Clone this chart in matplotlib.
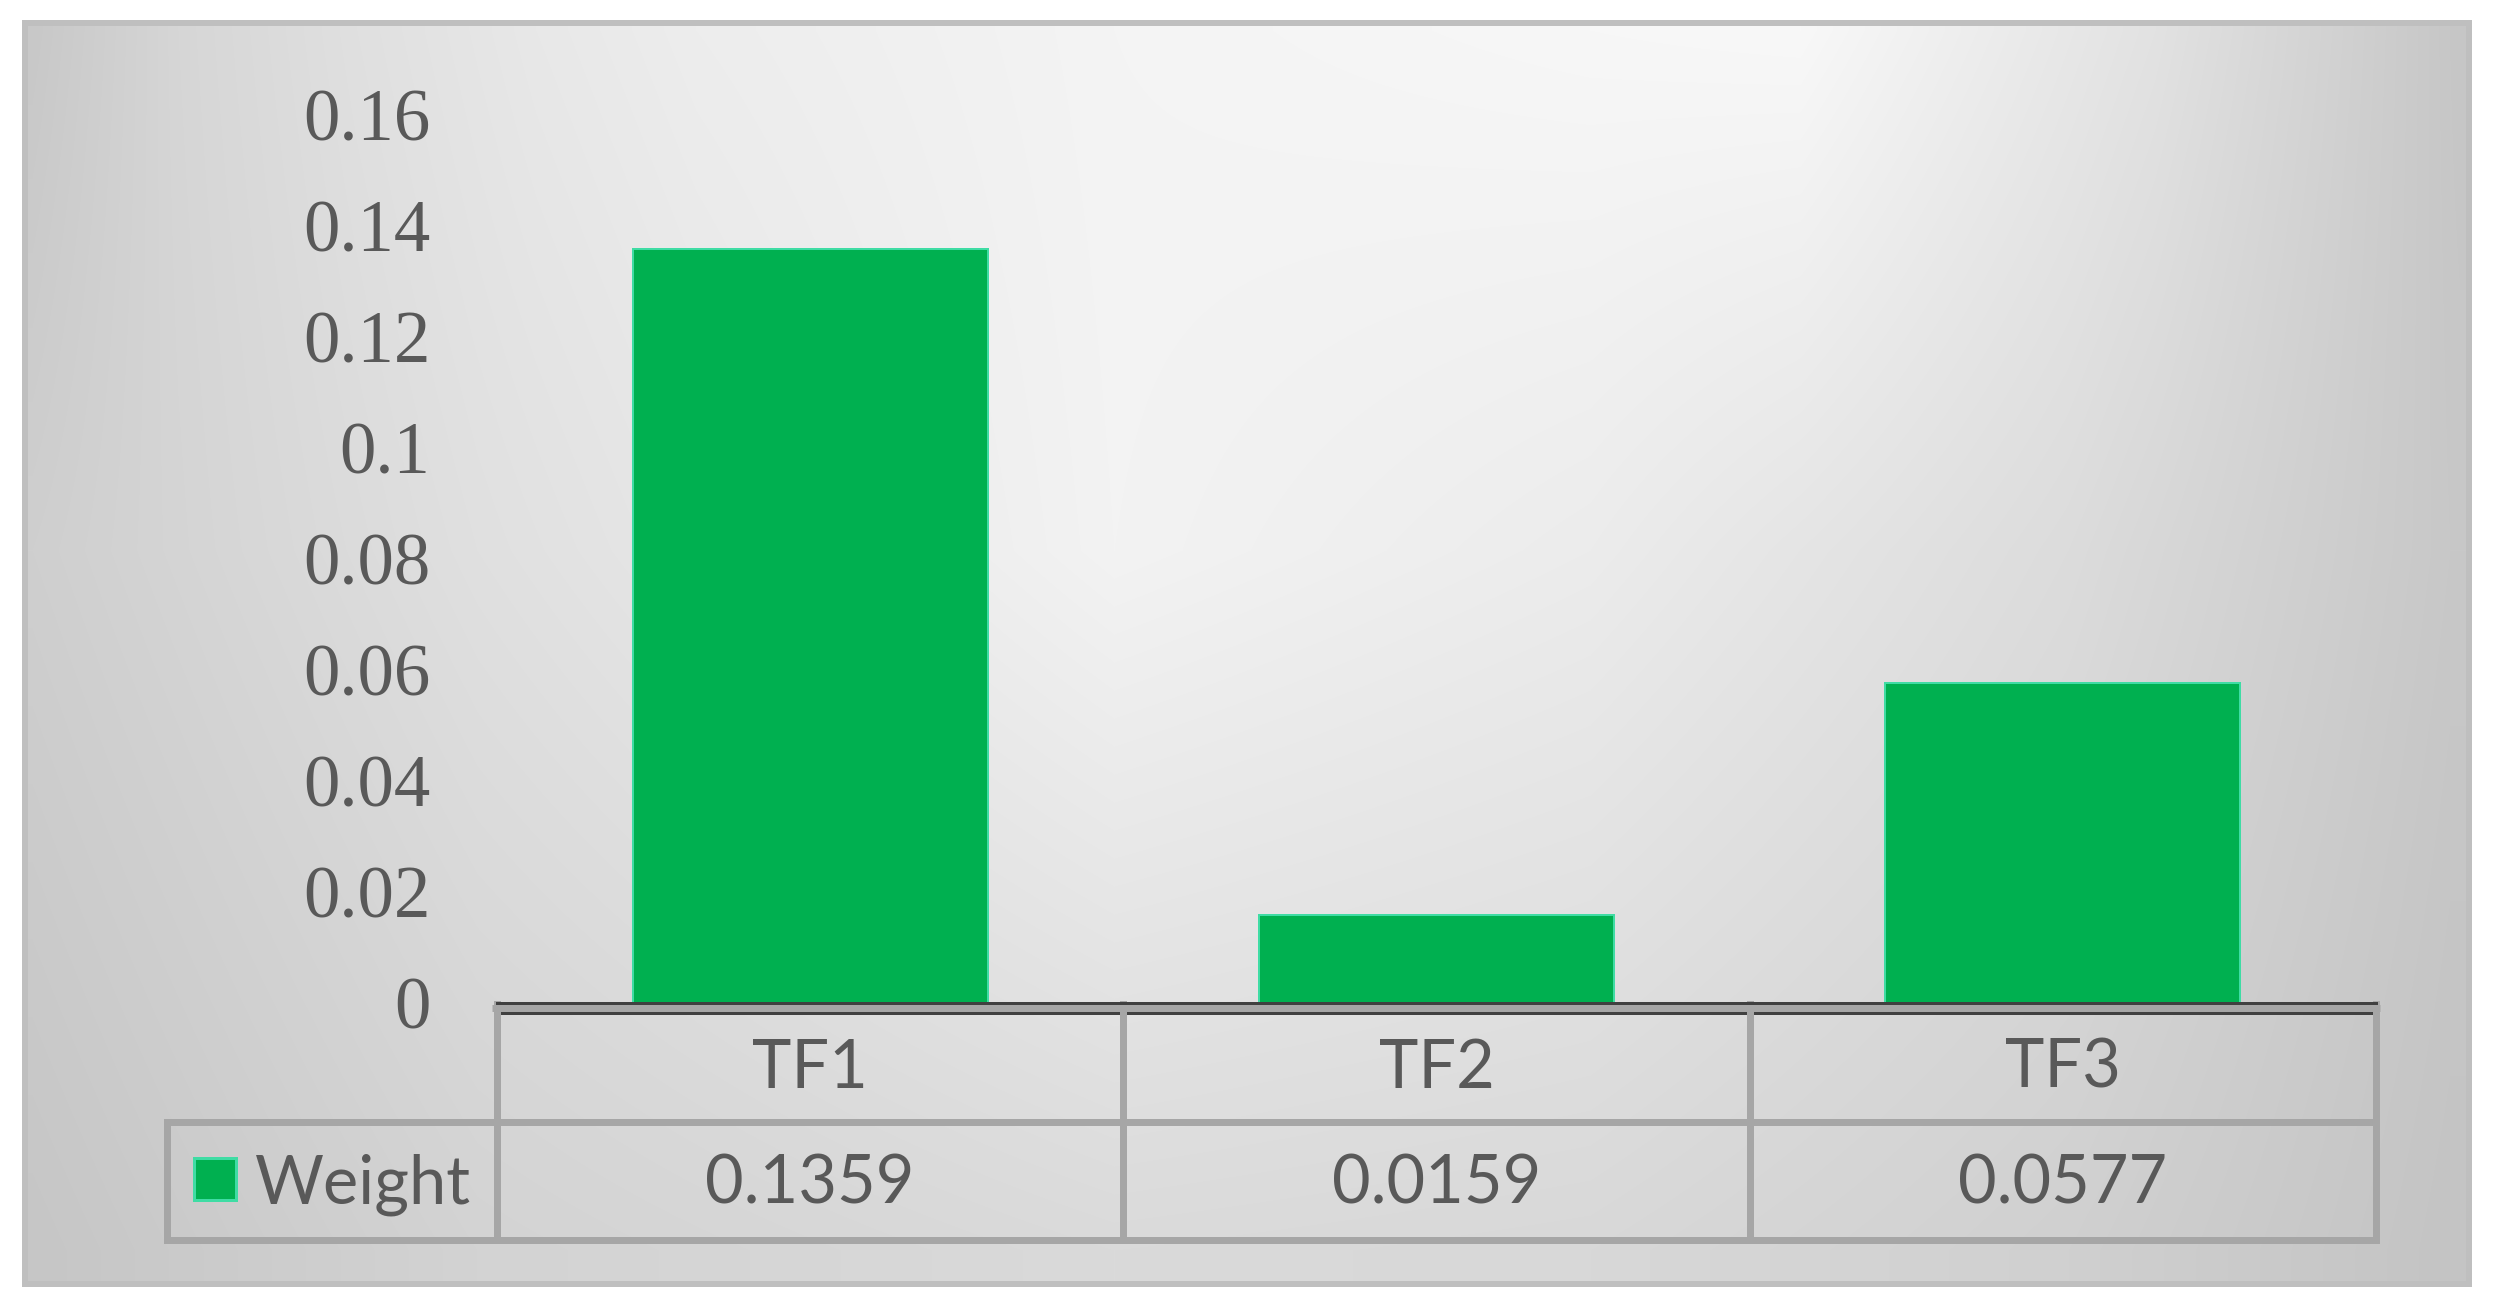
import numpy as np
import matplotlib
matplotlib.use("Agg")
import matplotlib.pyplot as plt
from matplotlib import transforms
from matplotlib.patches import Rectangle

# ── Data ──────────────────────────────────────────────────────────────
categories = ["TF1", "TF2", "TF3"]
weights = [0.1359, 0.0159, 0.0577]
series_name = "Weight"
y_ticks = [0, 0.02, 0.04, 0.06, 0.08, 0.10, 0.12, 0.14, 0.16]

BAR_COLOR = "#00B050"
BAR_EDGE = "#3fdca4"
TEXT_COLOR = "#595959"
GRID_GRAY = "#a6a6a6"

W, H = 2495, 1312
PT = 0.72  # points per pixel at dpi 100

fig = plt.figure(figsize=(W / 100, H / 100), dpi=100)
fig.patch.set_facecolor("white")

# background axes in pixel coordinates
bg = fig.add_axes([0, 0, 1, 1])
bg.set_xlim(0, W)
bg.set_ylim(H, 0)
bg.axis("off")

# ── Gradient fill of the chart area ───────────────────────────────────
fx0, fx1, fy0, fy1 = 22, 2472, 20, 1287
xs = np.arange(fx0, fx1)
ys = np.arange(fy0, fy1)
top_x = [32, 178, 357, 536, 696, 1114, 1590, 1800, 1977, 2155, 2332, 2460]
top_v = [200, 214, 224, 232, 237, 244, 247, 248, 237, 226, 210, 198]
mid_x = [32, 477, 1114, 1590, 2068, 2450]
mid_v = [207, 224, 243, 236, 220, 200]
bot_x = [32, 477, 1114, 1590, 2068, 2450]
bot_v = [198, 211, 218, 216, 208, 196]
rows = np.vstack([np.interp(xs, top_x, top_v),
                  np.interp(xs, mid_x, mid_v),
                  np.interp(xs, bot_x, bot_v)])
row_y = [30, 550, 1250]
grad = np.empty((len(ys), len(xs)))
for j in range(len(xs)):
    grad[:, j] = np.interp(ys, row_y, rows[:, j])
img = np.dstack([grad, grad, grad]) / 255.0
bg.imshow(img, extent=(fx0, fx1, fy1, fy0), aspect="auto", zorder=0,
          interpolation="bilinear")
bg.add_patch(Rectangle((25, 23), 2444, 1261, fill=False, ec="#bfbfbf",
                       lw=6 * PT, zorder=1))

# ── Main plot ─────────────────────────────────────────────────────────
ax_l, ax_r, ax_t, ax_b = 497, 2376, 115, 1003
ax = fig.add_axes([ax_l / W, 1 - ax_b / H, (ax_r - ax_l) / W, (ax_b - ax_t) / H])
ax.patch.set_alpha(0)
x = np.arange(len(categories))
ax.bar(x, weights, width=0.567, color=BAR_COLOR, edgecolor=BAR_EDGE,
       linewidth=2 * PT, zorder=3)
ax.set_xlim(-0.5, len(categories) - 0.5)
ax.set_ylim(0, 0.16)
ax.set_yticks(y_ticks)
ax.set_yticklabels([f"{v:g}" for v in y_ticks], family="Liberation Serif",
                   fontsize=52.5, color=TEXT_COLOR)
ax.tick_params(axis="y", length=0, pad=48)
ax.tick_params(axis="x", length=0, labelbottom=False)
for s in ["top", "left", "right"]:
    ax.spines[s].set_visible(False)
ax.spines["bottom"].set_color("#404040")
ax.spines["bottom"].set_linewidth(3 * PT)
ax.spines["bottom"].set_zorder(5)

# ── Data table under the axis ─────────────────────────────────────────
tr = transforms.blended_transform_factory(ax.transData, bg.transData)
row1, row2, row3 = 1004, 1122, 1240
leg_l = 167
lw_t = 7 * PT

bg.plot([492, 2380], [1007.5, 1007.5], color=GRID_GRAY, lw=lw_t, zorder=2,
        solid_capstyle="butt")
bg.plot([500, 2373], [1012.5, 1012.5], color="#404040", lw=3 * PT, zorder=3,
        solid_capstyle="butt")
bg.plot([leg_l, ax_r], [row2, row2], color=GRID_GRAY, lw=lw_t, zorder=2,
        solid_capstyle="projecting")
bg.plot([leg_l, ax_r], [row3, row3], color=GRID_GRAY, lw=lw_t, zorder=2,
        solid_capstyle="projecting")
bg.plot([leg_l, leg_l], [row2, row3], color=GRID_GRAY, lw=lw_t, zorder=2,
        solid_capstyle="projecting")
for b in np.arange(len(categories) + 1) - 0.5:
    ax.plot([b, b], [row1, row3], color=GRID_GRAY, lw=lw_t, zorder=2,
            transform=tr, clip_on=False, solid_capstyle="projecting")

for i, (c, v) in enumerate(zip(categories, weights)):
    ax.text(i, (row1 + row2) / 2 + 6, c, transform=tr, ha="center",
            va="center", family="Lato", fontsize=48, color=TEXT_COLOR)
    ax.text(i, (row2 + row3) / 2 + 4, f"{v:.4f}", transform=tr, ha="center",
            va="center", family="Lato", fontsize=48, color=TEXT_COLOR)

bg.add_patch(Rectangle((194, 1158), 42, 42, fc=BAR_COLOR, ec=BAR_EDGE,
                       lw=3 * PT, zorder=3))
bg.text(255, (row2 + row3) / 2 + 4, series_name, ha="left", va="center",
        family="Lato", fontsize=48, color=TEXT_COLOR, zorder=3)

fig.savefig("out.png", dpi=100, facecolor="white")
